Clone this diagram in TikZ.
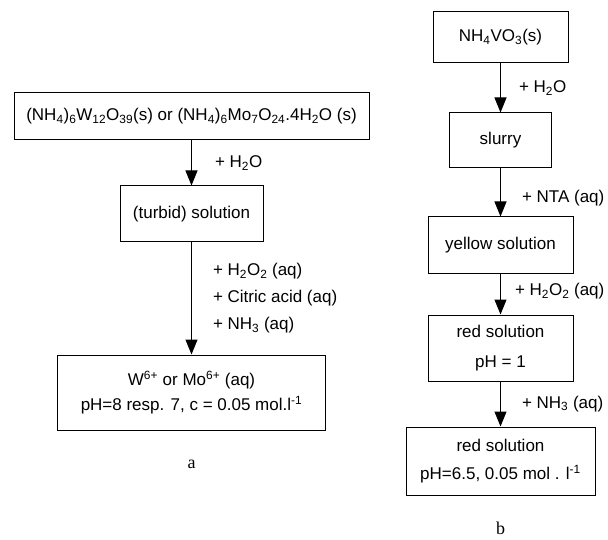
\documentclass[tikz,border=0pt]{standalone}
\usepackage{fontspec}
\setmainfont{Liberation Serif}
\setsansfont{Liberation Sans}
\usetikzlibrary{positioning,arrows.meta}

\begin{document}
\begin{tikzpicture}[x=1pt, y=-1pt,
                    stage/.style={rectangle, draw=black, line width=1pt,
                    inner sep=0pt, align=center,
                    font=\sffamily\fontsize{17}{20}\selectfont},
                    var/.style={inner sep=0pt, align=left,
                    font=\sffamily\fontsize{17}{20}\selectfont},
                    caption/.style={font=\fontsize{18}{20}\selectfont},
                    flow/.style={-{Triangle[width=12pt,length=15pt]}, line width=1pt},
                ]
                \useasboundingbox (0,0) rectangle (608,540);

                % a
                \node[stage, minimum width=355pt, minimum height=47pt] (salt) at (191.5,116.5) {(NH\textsubscript{4})\textsubscript{6}W\textsubscript{12}O\textsubscript{39}(s) or (NH\textsubscript{4})\textsubscript{6}Mo\textsubscript{7}O\textsubscript{24}.4H\textsubscript{2}O (s)};
                \node[stage, minimum width=143pt, minimum height=56pt] (turbid) [below=45pt of salt] {(turbid) solution};
                \node[stage, minimum width=268pt, minimum height=75pt] (metal) [below=112pt of turbid] {W\textsuperscript{6+} or Mo\textsuperscript{6+} (aq)\\[5pt] pH=8 resp. 7, c = 0.05 mol.l\textsuperscript{-1}};
                \node[caption] (label_a) [below=26pt of metal] {a};

                % b
                \node[stage, minimum width=135pt, minimum height=51pt] (vanadate) at (500.5,37.5) {NH\textsubscript{4}VO\textsubscript{3}(s)};
                \node[stage, minimum width=102pt, minimum height=55pt] (slurry) [below=49pt of vanadate] {slurry};
                \node[stage, minimum width=145pt, minimum height=57pt] (yellow) [below=48pt of slurry] {yellow solution};
                \node[stage, minimum width=145pt, minimum height=66pt] (red_acid) [below=40pt of yellow] {red solution\\[10pt] pH = 1};
                \node[stage, minimum width=189pt, minimum height=68pt] (red_final) [below=45pt of red_acid] {red solution\\[8pt] pH=6.5, 0.05 mol . l\textsuperscript{-1}};
                \node[caption] (label_b) [below=23pt of red_final] {b};

                \draw[flow] (salt.south) -- node[var, right=23pt] (water_a) {+ H\textsubscript{2}O} (turbid.north);
                \draw[flow] (turbid.south) -- node[var, right=21pt] (reagents_a) {+ H\textsubscript{2}O\textsubscript{2} (aq)\\[7pt] + Citric acid (aq)\\[7pt] + NH\textsubscript{3} (aq)} (metal.north);

                \draw[flow] (vanadate.south) -- node[var, right=18pt] (water_b) {+ H\textsubscript{2}O} (slurry.north);
                \draw[flow] (slurry.south) -- node[var, right=21pt, yshift=-6pt] (nta) {+ NTA (aq)} (yellow.north);
                \draw[flow] (yellow.south) -- node[var, right=14pt, yshift=3pt] (peroxide) {+ H\textsubscript{2}O\textsubscript{2} (aq)} (red_acid.north);
                \draw[flow] (red_acid.south) -- node[var, right=21pt] (ammonia) {+ NH\textsubscript{3} (aq)} (red_final.north);
            \end{tikzpicture}
\end{document}
